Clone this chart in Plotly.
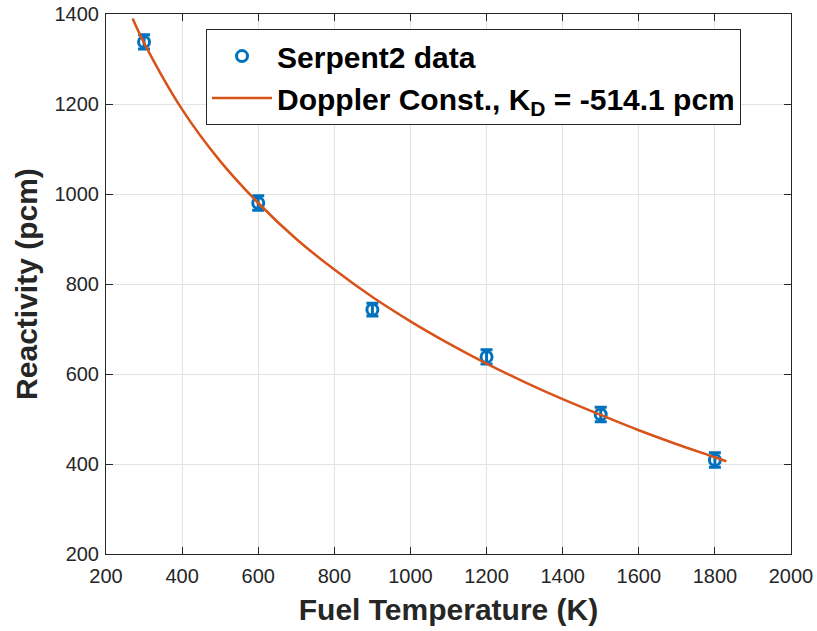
import plotly.graph_objects as go

# Serpent2 data
temps = [300, 600, 900, 1200, 1500, 1800]
reactivity = [1338, 980, 743, 638, 510, 409]
err = [16, 16, 14, 16, 16, 16]

# Doppler constant fit curve
fit_T = [270, 300, 400, 500, 600, 700, 800, 900, 1000, 1100, 1200, 1300, 1400, 1500, 1600, 1700, 1800, 1830]
fit_rho = [1390, 1336, 1188, 1073, 980, 900, 832, 771, 717, 668, 623, 582, 544, 509, 475, 444, 415, 406]

x_ticks = [200, 400, 600, 800, 1000, 1200, 1400, 1600, 1800, 2000]
y_ticks = [200, 400, 600, 800, 1000, 1200, 1400]

blue = "#0072BD"
orange = "#D95319"
axcol = "#262626"
fam = "Liberation Sans, Arial"

fig = go.Figure()
fig.add_trace(go.Scatter(
    x=temps, y=reactivity, mode="markers", name="<b>Serpent2 data</b>",
    marker=dict(symbol="circle-open", size=11, color=blue, line=dict(width=3, color=blue)),
    error_y=dict(type="data", array=err, color=blue, thickness=3, width=6),
))
fig.add_trace(go.Scatter(
    x=fit_T, y=fit_rho, mode="lines", line_shape="spline",
    name="<b>Doppler Const., K<sub>D</sub> = -514.1 pcm</b>",
    line=dict(color=orange, width=2.5),
))

axis_common = dict(
    showgrid=True, gridcolor="#e3e3e3", gridwidth=1,
    showline=True, linecolor=axcol, linewidth=1, mirror="ticks",
    ticks="inside", ticklen=7, tickcolor=axcol,
    tickfont=dict(family=fam, size=20, color=axcol),
    zeroline=False, automargin=False,
)
fig.update_xaxes(range=[200, 2000], tickvals=x_ticks, ticklabelstandoff=4,
                 title=dict(text="<b>Fuel Temperature (K)</b>",
                            font=dict(family=fam, size=30, color=axcol), standoff=12),
                 **axis_common)
fig.update_yaxes(range=[200, 1400], tickvals=y_ticks, ticklabelstandoff=2,
                 title=dict(text="<b>Reactivity (pcm)</b>",
                            font=dict(family=fam, size=30, color=axcol), standoff=8),
                 **axis_common)

fig.update_layout(
    width=817, height=631,
    margin=dict(l=106, r=26, t=14, b=77),
    paper_bgcolor="white", plot_bgcolor="white",
    showlegend=True,
    legend=dict(x=0.146, y=0.972, xanchor="left", yanchor="top",
                bgcolor="white", bordercolor=axcol, borderwidth=1,
                font=dict(family=fam, size=30, color="black"),
                itemwidth=60, tracegroupgap=0),
    font=dict(family=fam),
)

fig.write_html("out.html")
